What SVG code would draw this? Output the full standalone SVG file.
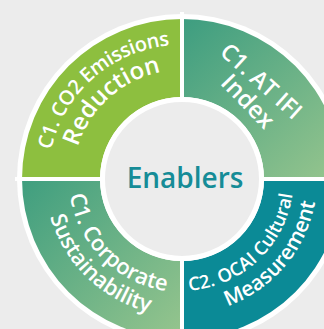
<svg xmlns="http://www.w3.org/2000/svg" width="324" height="329" viewBox="0 0 324 329">
  <style>
    .lbl { font-family: "Open Sans", "Noto Sans", sans-serif; font-weight: 600; fill: #ffffff; }
    .ctr { font-family: "Open Sans", "Noto Sans", sans-serif; font-weight: 600; fill: #168c97; font-size: 28px; }
  </style>
  <defs>
    <linearGradient id="gTR" gradientUnits="userSpaceOnUse" x1="182" y1="19" x2="330" y2="179">
      <stop offset="0" stop-color="#3d9d80"/>
      <stop offset="1" stop-color="#94c48d"/>
    </linearGradient>
    <linearGradient id="gBL" gradientUnits="userSpaceOnUse" x1="22" y1="179" x2="182" y2="330">
      <stop offset="0" stop-color="#3f9e7f"/>
      <stop offset="1" stop-color="#94c48d"/>
    </linearGradient>
    <path id="pTL1" d="M57.3,228.1 A134,134 0 0 1 246,61.2"/>
    <path id="pTL2" d="M80.9,219.8 A109,109 0 0 1 233.2,82.8"/>
    <path id="pBL1" d="M79.6,131.2 A113,113 0 0 0 229.8,281.4"/>
    <path id="pBL2" d="M56.8,123.3 A137,137 0 0 0 242.1,302.1"/>
    <path id="pBR1" d="M130.9,278.7 A112,112 0 0 0 284.7,135.2"/>
    <path id="pBR2" d="M135.8,305.9 A135,135 0 0 0 298.9,111.5"/>
  </defs>
  <rect x="0" y="0" width="324" height="329" fill="#ececec"/>
  <circle cx="182" cy="179" r="165" fill="#ffffff"/>

  <g id="node-co2">
    <path d="M22,179 A160,160 0 0 1 182,19 L182,97 A82,82 0 0 0 100,179 Z" fill="#8dbf3f"/>
    <text class="lbl" font-size="20" letter-spacing="-0.4"><textPath href="#pTL1" startOffset="50%" text-anchor="middle">C1. CO2 Emissions</textPath></text>
    <text class="lbl" font-size="24"><textPath href="#pTL2" startOffset="50%" text-anchor="middle">Reduction</textPath></text>
  </g>
  <g id="node-atifi">
    <path d="M182,19 A160,160 0 0 1 342,179 L264,179 A82,82 0 0 0 182,97 Z" fill="url(#gTR)"/>
    <text class="lbl" font-size="23" text-anchor="middle" transform="translate(256,87) rotate(42)">C1. AT IFI</text>
    <text class="lbl" font-size="24" text-anchor="middle" transform="translate(242,107) rotate(46)">Index</text>
  </g>
  <g id="node-ocai">
    <path d="M342,179 A160,160 0 0 1 182,339 L182,261 A82,82 0 0 0 264,179 Z" fill="#0b8a96"/>
    <text class="lbl" font-size="18.5"><textPath href="#pBR1" startOffset="50%" text-anchor="middle">C2. OCAI Cultural</textPath></text>
    <text class="lbl" font-size="21"><textPath href="#pBR2" startOffset="50%" text-anchor="middle">Measurement</textPath></text>
  </g>
  <g id="node-corp">
    <path d="M182,339 A160,160 0 0 1 22,179 L100,179 A82,82 0 0 0 182,261 Z" fill="url(#gBL)"/>
    <text class="lbl" font-size="22"><textPath href="#pBL1" startOffset="50%" text-anchor="middle">C1. Corporate</textPath></text>
    <text class="lbl" font-size="22"><textPath href="#pBL2" startOffset="50%" text-anchor="middle">Sustainability</textPath></text>
  </g>

  <g id="connectors" stroke="#ffffff" stroke-width="4">
    <line x1="182" y1="12" x2="182" y2="346"/>
    <line x1="15" y1="179" x2="349" y2="179"/>
  </g>

  <g id="node-enablers">
    <circle cx="182" cy="179" r="79.5" fill="#ececec" stroke="#ffffff" stroke-width="5"/>
    <text class="ctr" x="185" y="188" text-anchor="middle">Enablers</text>
  </g>
</svg>
